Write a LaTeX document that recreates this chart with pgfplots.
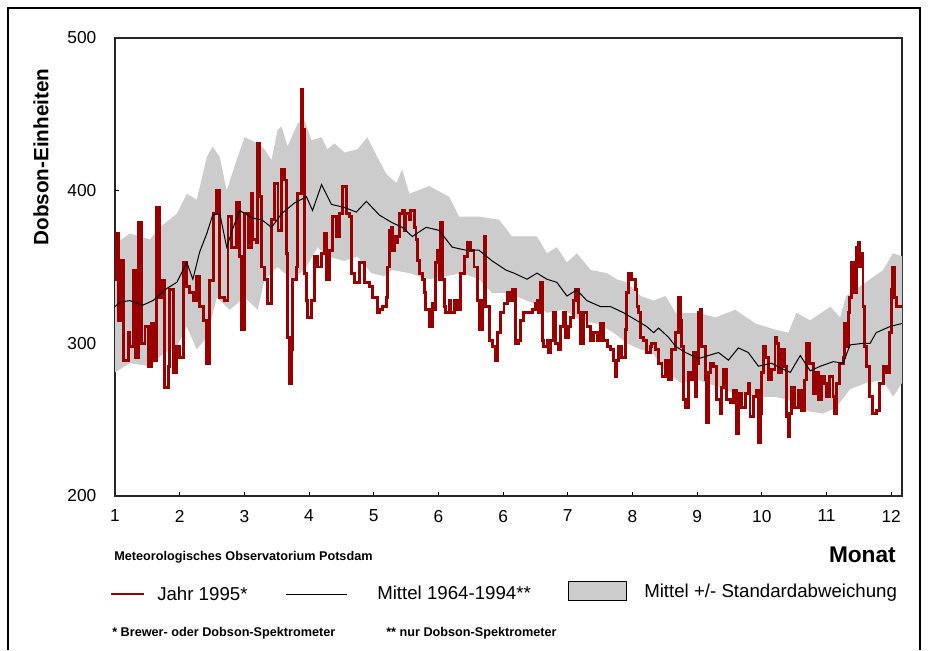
\documentclass[border=0pt]{standalone}
\usepackage{fontspec}
\setmainfont{Liberation Sans}
\usepackage{pgfplots}
\usepackage{pgfplotstable}
\pgfplotsset{compat=1.18}
\usepgfplotslibrary{fillbetween}
\definecolor{ozred}{RGB}{153,0,0}
\definecolor{bandgray}{RGB}{204,204,204}

% Tageswerte 1995 (Tag ab 1. Januar, DU)
\pgfplotstableread[row sep=\\]{
d v\\
0 342\\ 0.8 372\\ 1.5 315\\ 3.1 354\\ 3.9 289\\ 6.2 307\\ 6.9 298\\ 8.5 348\\ 9.3 291\\ 10.8 379\\
12.3 300\\ 13.9 311\\ 15.4 285\\ 17.0 313\\ 17.7 289\\ 19.3 389\\ 20.8 330\\ 21.6 341\\ 23.1 271\\ 24.7 285\\
25.4 335\\ 27.0 281\\ 28.5 298\\ 30.0 291\\ 31.6 353\\ 33.2 337\\ 34.7 333\\ 36.2 328\\ 37.8 344\\ 39.3 324\\
40.9 315\\ 42.4 287\\ 43.9 341\\ 45.5 385\\ 47.0 400\\ 48.6 330\\ 50.9 328\\ 52.4 383\\ 54.0 363\\ 56.3 392\\
57.8 357\\ 58.6 309\\ 60.1 385\\ 61.7 363\\ 63.2 398\\ 64.0 368\\ 65.5 366\\ 66.3 431\\ 67.1 396\\ 67.9 350\\
69.4 342\\ 70.9 326\\ 72.5 381\\ 74.0 405\\ 75.6 374\\ 77.1 414\\ 78.6 407\\ 79.4 359\\ 80.2 304\\ 81.0 274\\
81.7 296\\ 82.5 342\\ 84.0 350\\ 84.8 398\\ 86.4 466\\ 87.1 440\\ 87.9 346\\ 88.7 328\\ 89.4 317\\ 91.0 328\\
92.5 357\\ 94.1 350\\ 95.6 359\\ 97.1 372\\ 97.9 342\\ 99.5 361\\ 101.0 383\\ 102.6 370\\ 104.1 385\\ 105.6 403\\
107.2 385\\ 108.7 383\\ 109.5 346\\ 111.0 340\\ 113.3 353\\ 115.7 340\\ 118.0 337\\ 119.5 330\\ 121.8 320\\ 122.6 322\\
124.1 324\\ 125.7 330\\ 126.5 350\\ 127.2 374\\ 128.0 376\\ 128.8 361\\ 129.5 370\\ 130.3 366\\ 131.1 370\\ 131.9 385\\
133.4 387\\ 134.2 374\\ 134.9 385\\ 136.5 381\\ 137.2 387\\ 138.8 376\\ 139.6 368\\ 140.3 354\\ 141.1 346\\ 142.6 342\\
143.4 333\\ 144.2 322\\ 145.7 311\\ 147.3 326\\ 148.0 322\\ 148.8 353\\ 149.6 361\\ 150.4 342\\ 151.1 379\\ 151.9 342\\
152.7 324\\ 153.4 320\\ 155.0 328\\ 155.8 320\\ 157.3 328\\ 158.8 322\\ 160.4 346\\ 161.9 357\\ 163.5 366\\ 165.0 361\\
166.5 350\\ 168.1 328\\ 168.9 309\\ 170.4 328\\ 171.2 370\\ 171.9 324\\ 173.5 302\\ 175.0 298\\ 176.6 289\\ 177.3 307\\
178.9 320\\ 180.4 326\\ 182.0 333\\ 183.5 328\\ 184.3 335\\ 185.8 300\\ 187.3 302\\ 188.1 315\\ 189.6 320\\ 191.9 320\\
193.5 322\\ 195.0 326\\ 195.8 328\\ 196.6 320\\ 197.3 340\\ 198.1 302\\ 198.9 298\\ 200.4 302\\ 201.2 294\\ 202.0 302\\
203.5 320\\ 204.3 300\\ 205.8 296\\ 206.6 311\\ 208.1 320\\ 208.9 304\\ 210.4 311\\ 211.2 317\\ 212.8 328\\ 213.5 335\\
215.1 320\\ 215.8 300\\ 217.4 320\\ 218.9 311\\ 220.5 302\\ 222.0 307\\ 223.6 302\\ 225.1 313\\ 226.6 302\\ 228.2 298\\
229.7 296\\ 231.3 289\\ 232.0 278\\ 232.8 289\\ 233.6 298\\ 235.1 291\\ 236.7 309\\ 237.4 333\\ 238.2 346\\ 239.7 342\\
241.3 335\\ 242.1 324\\ 242.8 320\\ 243.6 304\\ 245.1 302\\ 246.7 294\\ 248.2 298\\ 249.0 300\\ 250.6 296\\ 252.1 287\\
253.7 278\\ 255.2 289\\ 256.8 276\\ 258.3 296\\ 259.8 307\\ 261.4 330\\ 262.2 315\\ 262.9 298\\ 263.7 263\\ 264.5 258\\
266.0 281\\ 267.5 276\\ 268.3 294\\ 269.1 265\\ 269.9 287\\ 270.6 320\\ 271.4 322\\ 272.2 298\\ 273.7 276\\ 274.5 248\\
275.3 281\\ 276.0 287\\ 277.6 285\\ 279.1 263\\ 280.7 254\\ 281.4 271\\ 282.2 283\\ 283.7 263\\ 285.3 261\\ 286.8 269\\
288.4 241\\ 289.1 267\\ 290.7 258\\ 292.2 267\\ 293.8 274\\ 294.5 252\\ 296.1 265\\ 297.6 269\\ 298.4 235\\ 299.2 254\\
299.9 281\\ 300.7 298\\ 301.5 291\\ 303.0 276\\ 304.6 283\\ 306.1 304\\ 306.9 300\\ 307.6 281\\ 309.2 296\\ 310.7 285\\
311.4 252\\ 312.2 239\\ 313.0 254\\ 313.8 271\\ 315.3 258\\ 316.8 269\\ 318.4 256\\ 319.9 276\\ 320.7 300\\ 322.2 287\\
323.8 267\\ 325.3 281\\ 326.1 263\\ 327.6 278\\ 329.2 274\\ 329.9 265\\ 331.5 278\\ 333.0 265\\ 333.8 254\\ 334.6 274\\
336.1 287\\ 337.7 291\\ 338.4 313\\ 339.2 298\\ 340.0 320\\ 340.7 330\\ 341.5 353\\ 342.3 350\\ 343.1 333\\ 343.8 363\\
344.6 366\\ 345.4 350\\ 346.1 359\\ 346.9 324\\ 347.7 298\\ 348.5 285\\ 350.0 265\\ 351.5 254\\ 353.1 256\\ 354.6 274\\
356.2 285\\ 357.7 281\\ 359.2 307\\ 360.0 335\\ 360.8 350\\ 361.6 330\\ 362.3 324\\ 363.9 324\\ 365 324\\
}\jahr

% Mittel 1964-1994
\pgfplotstableread[row sep=\\]{
d v\\
0 324\\ 2.3 327\\ 6.9 328\\ 12.9 325\\ 17.6 328\\ 24.1 336\\ 28.7 340\\ 33.3 353\\ 36.1 342\\ 39.3 360\\
42.6 372\\ 45.3 384\\ 48.6 385\\ 51.8 363\\ 54.6 375\\ 57.8 387\\ 63.8 382\\ 68.0 381\\ 72.6 376\\ 77.3 385\\
83.3 392\\ 88.8 396\\ 91.6 387\\ 95.8 404\\ 100.4 391\\ 106.4 389\\ 111.9 386\\ 116.6 393\\ 122.6 384\\ 128.6 379\\
133.2 376\\ 137.9 370\\ 144.3 376\\ 150.3 374\\ 156.4 363\\ 162.8 361\\ 168.8 361\\ 174.9 354\\ 181.3 348\\ 185.0 346\\
191.1 342\\ 195.7 346\\ 200.3 342\\ 204.9 340\\ 209.6 331\\ 214.2 335\\ 218.8 328\\ 225.3 324\\ 229.9 324\\ 235.9 320\\
241.9 315\\ 246.6 311\\ 249.8 307\\ 252.1 310\\ 256.7 304\\ 260.0 298\\ 264.6 294\\ 270.6 290\\ 275.2 292\\ 279.9 294\\
284.5 289\\ 289.1 297\\ 293.7 294\\ 298.4 285\\ 304.4 287\\ 309.9 283\\ 313.2 281\\ 317.8 292\\ 322.4 282\\ 327.1 285\\
333.1 288\\ 337.7 287\\ 340.9 299\\ 346.9 300\\ 350.2 300\\ 353.0 307\\ 359.4 311\\ 365 313\\
}\mittel

% Mittel + Standardabweichung
\pgfplotstableread[row sep=\\]{
d v\\
0 366\\ 0.9 366\\ 6.9 372\\ 16.2 368\\ 20.8 376\\ 28.7 385\\ 33.3 398\\ 37.9 394\\ 42.6 422\\ 45.3 429\\
48.6 422\\ 51.8 400\\ 56.4 420\\ 60.1 435\\ 66.2 431\\ 69.4 427\\ 72.6 420\\ 75.4 440\\ 77.3 442\\ 80.0 429\\
84.7 444\\ 87.9 446\\ 91.1 433\\ 95.8 435\\ 98.5 427\\ 101.8 431\\ 106.4 425\\ 112.4 427\\ 117.0 435\\ 121.7 422\\
125.8 411\\ 130.5 405\\ 133.2 414\\ 136.5 398\\ 145.7 403\\ 155.0 396\\ 159.6 383\\ 168.8 383\\ 178.1 381\\ 184.1 370\\
195.7 370\\ 200.3 359\\ 204.9 363\\ 209.6 353\\ 214.2 359\\ 220.7 348\\ 228.1 346\\ 232.7 342\\ 237.3 340\\ 243.8 331\\
249.8 328\\ 255.4 331\\ 260.0 320\\ 270.6 320\\ 278.5 317\\ 287.7 322\\ 297.0 313\\ 306.2 309\\ 312.3 307\\ 316.0 320\\
322.4 315\\ 331.7 324\\ 336.3 317\\ 339.1 331\\ 350.2 342\\ 356.2 348\\ 360.8 359\\ 365 357\\
}\oben

% Mittel - Standardabweichung
\pgfplotstableread[row sep=\\]{
d v\\
0 281\\ 6.9 287\\ 16.2 285\\ 22.2 293\\ 28.7 298\\ 33.3 311\\ 37.9 296\\ 42.6 304\\ 47.2 330\\ 53.2 322\\
60.1 330\\ 66.2 322\\ 69.4 342\\ 75.4 350\\ 81.9 342\\ 87.9 348\\ 93.9 363\\ 98.5 357\\ 106.4 354\\ 112.4 357\\
118.9 346\\ 124.9 344\\ 128.6 348\\ 136.5 346\\ 145.7 342\\ 153.6 344\\ 161.0 346\\ 168.8 342\\ 174.9 333\\ 181.3 333\\
187.4 330\\ 194.3 326\\ 200.3 320\\ 208.2 322\\ 216.0 315\\ 223.4 313\\ 231.3 307\\ 237.3 300\\ 243.8 296\\ 249.8 293\\
255.4 281\\ 262.8 274\\ 270.6 276\\ 278.5 272\\ 287.7 267\\ 297.0 265\\ 306.2 265\\ 312.3 263\\ 319.2 256\\ 328.4 254\\
334.5 258\\ 340.9 270\\ 348.3 274\\ 356.2 276\\ 360.8 265\\ 365 274\\
}\unten

\begin{document}
\begin{tikzpicture}
\begin{axis}[at={(86.25pt,-372pt)}, anchor=south west,
  scale only axis, width=590.25pt, height=343.5pt,
  xmin=0, xmax=365, ymin=200, ymax=500,
  xtick={0,30,...,360}, xticklabels={1,2,3,4,5,6,6,7,8,9,10,11,12},
  ytick={200,300,400,500},
  tick align=inside, xtick pos=left, ytick pos=left,
  major tick length=3pt, tick style={black, line width=0.8pt},
  axis line style={black!85, line width=1pt},
  ticklabel style={font=\fontsize{13}{15}\selectfont},
  xticklabel style={yshift=-7pt}, yticklabel style={xshift=-10.5pt},
  /pgf/number format/assume math mode=true]
\addplot[draw=none, name path=oben] table[x=d, y=v] {\oben};
\addplot[draw=none, name path=unten] table[x=d, y=v] {\unten};
\addplot[fill=bandgray, draw=none] fill between[of=oben and unten];
\addplot[ozred, line width=2.2pt, const plot, line join=miter] table[x=d, y=v] {\jahr};
\addplot[black, line width=0.75pt] table[x=d, y=v] {\mittel};
\end{axis}

\begin{scope}[x=0.75pt, y=-0.75pt]
\useasboundingbox (0,0) rectangle (928,650);
\draw[black, line width=0.8pt] (8,650) -- (8,8) -- (920,8) -- (920,650);
\node[rotate=90, font=\fontsize{15.5}{18}\selectfont\bfseries] at (41,157) {Dobson-Einheiten};
\node[anchor=west, inner sep=0, font=\fontsize{9.5}{11}\selectfont\bfseries] at (114,557) {Meteorologisches Observatorium Potsdam};
\node[anchor=east, inner sep=0, font=\fontsize{17}{20}\selectfont\bfseries] at (896,555) {Monat};
\draw[ozred, line width=2.2pt] (111,594) -- (144,594);
\node[anchor=west, inner sep=0, font=\fontsize{14}{16}\selectfont] at (157,594) {Jahr 1995*};
\draw[black, line width=0.75pt] (286,594) -- (347,594);
\node[anchor=west, inner sep=0, font=\fontsize{14}{16}\selectfont] at (377,593) {Mittel 1964-1994**};
\draw[black, line width=0.75pt, fill=bandgray] (568,581) rectangle (626,600);
\node[anchor=west, inner sep=0, font=\fontsize{14}{16}\selectfont] at (644,593) {Mittel +/- Standardabweichung};
\node[anchor=west, inner sep=0, font=\fontsize{9.5}{11}\selectfont\bfseries] at (112,633) {* Brewer- oder Dobson-Spektrometer};
\node[anchor=west, inner sep=0, font=\fontsize{9.5}{11}\selectfont\bfseries] at (386,633) {** nur Dobson-Spektrometer};
\end{scope}
\end{tikzpicture}
\end{document}
